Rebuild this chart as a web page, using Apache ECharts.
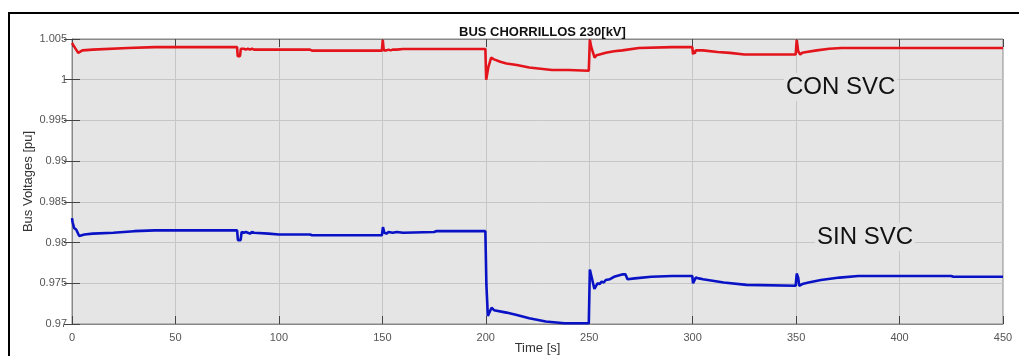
<!DOCTYPE html>
<html>
<head>
<meta charset="utf-8">
<script src="https://cdn.jsdelivr.net/npm/echarts@6/dist/echarts.min.js"></script>
<style>
  html, body { margin: 0; padding: 0; background: #fff; }
  #chart { width: 1019px; height: 356px; }
</style>
</head>
<body>
<div id="chart"></div>
<script>
const titleText = 'BUS CHORRILLOS 230[kV]';
const seriesNames = ['CON SVC', 'SIN SVC'];

// red trace (with SVC)
const conTime = [0, 1, 3, 5, 10, 27, 40, 79.8, 80.1, 81.2, 81.6, 82.3, 83, 84, 85, 86, 87, 88, 100, 115, 116, 149.8,
  150.2, 150.7, 151.4, 152, 153, 154, 155, 157, 160, 199.8,
  200.2, 201.2, 202.6, 204, 207, 210, 215, 221, 232, 240, 249.8,
  250.3, 251, 252.6, 253.5, 255, 258, 262, 266, 274, 290, 299.8,
  300.2, 300.6, 301, 301.5, 302, 303, 305, 312, 318, 325, 349.8,
  350.3, 351, 352, 353, 355, 360, 366, 372, 400, 450];
const conVolt = [1.0045, 1.0041, 1.0033, 1.0036, 1.0037, 1.0039, 1.0040, 1.0040, 1.0029, 1.0029, 1.0038, 1.0037, 1.0038, 1.0037, 1.0038, 1.0037, 1.0038, 1.0037, 1.0037, 1.0037, 1.00357, 1.00357,
  1.0049, 1.0036, 1.0038, 1.0036, 1.0037, 1.0036, 1.0037, 1.0037, 1.00378, 1.00378,
  1.0000, 1.0015, 1.0027, 1.0025, 1.0022, 1.0020, 1.0018, 1.0015, 1.0012, 1.0012, 1.0011,
  1.0049, 1.0040, 1.0027, 1.0030, 1.0031, 1.0033, 1.0035, 1.0036, 1.0039, 1.0040, 1.0040,
  1.0031, 1.0036, 1.0032, 1.0036, 1.0034, 1.0036, 1.0036, 1.0034, 1.0033, 1.0031, 1.0031,
  1.0049, 1.0035, 1.0031, 1.0033, 1.0034, 1.0036, 1.0038, 1.0039, 1.0039, 1.0039];

// blue trace (without SVC)
const sinTime = [0, 0.3, 1, 2, 3.5, 6, 10, 20, 30, 40, 79.8, 80.2, 81.5, 82, 83, 84, 85, 86, 87, 88, 95, 100, 115, 116, 149.8,
  150.3, 151, 152, 153, 155, 157, 160, 175, 176, 199.8,
  200.3, 200.6, 201, 202.8, 204, 210, 215, 221, 229, 238, 249.8,
  250.3, 251, 252.5, 254, 255, 256, 257, 258, 260, 262, 266.3, 267.5, 268.5, 272, 280, 290, 299.8,
  300.2, 301, 301.5, 302, 303, 305, 315, 326, 349.8,
  350.3, 351, 351.5, 353, 356, 362, 371, 380, 425, 426, 450];
const sinVolt = [0.9830, 0.9825, 0.9818, 0.9816, 0.9808, 0.9810, 0.9811, 0.9812, 0.9814, 0.9815, 0.9815, 0.9803, 0.9803, 0.9813, 0.9812, 0.9813, 0.9812, 0.9811, 0.9813, 0.9812, 0.9811, 0.9810, 0.9810, 0.9809, 0.9809,
  0.9819, 0.9812, 0.9811, 0.9813, 0.9812, 0.9813, 0.9812, 0.9813, 0.9814, 0.9814,
  0.9748, 0.9748, 0.9710, 0.9720, 0.9717, 0.9714, 0.9711, 0.9707, 0.9703, 0.9701, 0.9701,
  0.9767, 0.9765, 0.9743, 0.9750, 0.9749, 0.9752, 0.9751, 0.9754, 0.9755, 0.9758, 0.9761, 0.9761, 0.9755, 0.9756, 0.9758, 0.9759, 0.9759,
  0.9750, 0.9751, 0.9757, 0.9755, 0.9756, 0.9755, 0.9751, 0.9748, 0.9747,
  0.9762, 0.9757, 0.9747, 0.9749, 0.9751, 0.9754, 0.9757, 0.9759, 0.9759, 0.9758, 0.9758];

const pairs = (ts, vs) => ts.map((t, i) => [t, vs[i]]);

const chart = echarts.init(document.getElementById('chart'));

const tickStyle = { inside: true, length: 8, lineStyle: { color: '#444' } };
const frame = { show: true, lineStyle: { color: '#888', width: 1 } };
const fontFamily = 'Liberation Sans, Arial, sans-serif';
const plotBg = '#e5e5e5';

chart.setOption({
  animation: false,
  backgroundColor: '#fff',
  textStyle: { fontFamily },
  title: {
    text: titleText,
    left: 454, top: 21,
    textStyle: { fontSize: 13, fontWeight: 'bold', color: '#111', fontFamily }
  },
  grid: {
    left: 72, top: 39, width: 931, height: 285,
    outerBoundsMode: 'none', containLabel: false,
    show: true, backgroundColor: plotBg, borderColor: '#888', borderWidth: 1
  },
  xAxis: [
    {
      type: 'value', min: 0, max: 450, interval: 50,
      name: 'Time [s]', nameLocation: 'middle', nameGap: 18, nameMoveOverlap: false,
      nameTextStyle: { fontSize: 13, color: '#333', fontFamily },
      axisLine: frame, axisTick: tickStyle,
      axisLabel: { fontSize: 11, color: '#555', margin: 8, fontFamily },
      splitLine: { show: true, lineStyle: { color: '#c6c6c6', width: 1 } }
    },
    {
      type: 'value', min: 0, max: 450, interval: 50, position: 'top',
      axisLine: frame, axisTick: tickStyle, axisLabel: { show: false }, splitLine: { show: false }
    }
  ],
  yAxis: [
    {
      type: 'value', min: 0.97, max: 1.005, interval: 0.005,
      name: 'Bus Voltages [pu]', nameLocation: 'middle', nameGap: 37, nameMoveOverlap: false,
      nameTextStyle: { fontSize: 13, color: '#333', fontFamily },
      axisLine: frame, axisTick: tickStyle,
      axisLabel: { fontSize: 11, color: '#555', margin: 5, fontFamily, formatter: v => String(+v.toFixed(3)) },
      splitLine: { show: true, lineStyle: { color: '#c6c6c6', width: 1 } }
    },
    {
      type: 'value', min: 0.97, max: 1.005, interval: 0.005, position: 'right',
      axisLine: frame, axisTick: tickStyle, axisLabel: { show: false }, splitLine: { show: false }
    }
  ],
  series: [
    {
      name: seriesNames[0], type: 'line', showSymbol: false, symbol: 'none',
      lineStyle: { color: '#e3141b', width: 2.6 }, itemStyle: { color: '#e3141b' },
      data: pairs(conTime, conVolt)
    },
    {
      name: seriesNames[1], type: 'line', showSymbol: false, symbol: 'none',
      lineStyle: { color: '#0a12c6', width: 2.6 }, itemStyle: { color: '#0a12c6' },
      data: pairs(sinTime, sinVolt)
    }
  ],
  graphic: [
    {
      type: 'rect', silent: true,
      shape: { x: 9, y: 13, width: 1100, height: 400 },
      style: { fill: 'none', stroke: '#000', lineWidth: 2 }
    },
    {
      type: 'text', left: 784, top: 73, z: 10,
      style: { text: seriesNames[0], fill: '#111', font: '24px Liberation Sans, Arial, sans-serif',
        backgroundColor: plotBg, padding: [2, 2] }
    },
    {
      type: 'text', left: 815, top: 223, z: 10,
      style: { text: seriesNames[1], fill: '#111', font: '24px Liberation Sans, Arial, sans-serif',
        backgroundColor: plotBg, padding: [2, 2] }
    }
  ]
});
</script>
</body>
</html>
